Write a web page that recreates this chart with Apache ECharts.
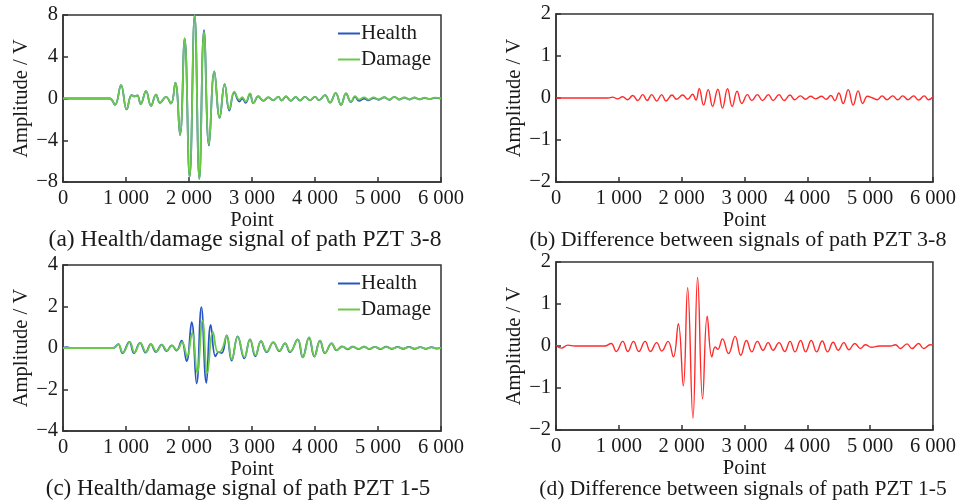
<!DOCTYPE html>
<html>
<head>
<meta charset="utf-8">
<script src="https://cdn.jsdelivr.net/npm/echarts@6/dist/echarts.min.js"></script>
<style>
html,body{margin:0;padding:0;background:#fff;}
#chart{width:959px;height:503px;}
</style>
</head>
<body>
<div id="chart"></div>
<script>
// ---- Data ----
const xTicks = [0, 1000, 2000, 3000, 4000, 5000, 6000];
const captions = [
  '(a) Health/damage signal of path PZT 3-8',
  '(b) Difference between signals of path PZT 3-8',
  '(c) Health/damage signal of path PZT 1-5',
  '(d) Difference between signals of path PZT 1-5'
];
const legendNames = ['Health', 'Damage'];

// (a) path PZT 3-8
const healthA = [[0,0],[740,0],[825,-0.6],[921,1.28],[1011,-1.05],[1090,0.32],[1140,0.2],[1180,0.3],[1233,-0.54],[1317,0.7],[1397,-0.7],[1476,0.38],[1540,-0.42],[1635,0.16],[1714,-0.48],[1783,1.53],[1857,-3.5],[1931,5.75],[2010,-7.5],[2090,8.0],[2164,-7.7],[2238,6.55],[2317,-4.5],[2402,2.6],[2487,-1.85],[2566,1.37],[2640,-1.15],[2719,0.58],[2800,-0.3],[2845,0.0],[2900,-0.42],[2968,0.45],[3021,-0.45],[3100,0.2],[3180,-0.22],[3259,0.1],[3338,-0.17],[3418,0.16],[3470,-0.2],[3540,0.2],[3614,-0.22],[3694,0.14],[3762,-0.2],[3841,0.16],[3920,-0.17],[4000,0.16],[4063,-0.15],[4159,0.32],[4238,-0.4],[4328,0.52],[4413,-0.62],[4492,0.48],[4571,-0.35],[4635,0.15],[4700,-0.22],[4780,0.0],[4850,-0.18],[4930,0.05],[5010,-0.12],[5100,0.1],[5180,-0.12],[5260,0.15],[5340,-0.1],[5420,0.08],[5500,-0.1],[5580,0.08],[5660,-0.08],[5740,0.06],[5820,-0.06],[5900,0.06],[6000,0]];
const damageA = [[0,0],[740,0],[825,-0.6],[921,1.28],[1011,-1.05],[1090,0.32],[1140,0.2],[1180,0.3],[1233,-0.54],[1317,0.7],[1397,-0.7],[1476,0.38],[1540,-0.42],[1635,0.16],[1714,-0.48],[1783,1.53],[1857,-3.5],[1931,5.75],[2010,-7.5],[2090,8.0],[2164,-7.7],[2238,6.4],[2317,-4.4],[2402,2.6],[2487,-1.8],[2566,1.37],[2640,-1.05],[2719,0.65],[2800,-0.12],[2845,0.12],[2900,-0.3],[2968,0.5],[3021,-0.45],[3100,0.22],[3180,-0.2],[3259,0.12],[3338,-0.15],[3418,0.16],[3470,-0.18],[3540,0.22],[3614,-0.2],[3694,0.16],[3762,-0.18],[3841,0.16],[3920,-0.15],[4000,0.16],[4063,-0.15],[4159,0.32],[4238,-0.38],[4328,0.54],[4413,-0.62],[4492,0.48],[4571,-0.32],[4635,0.22],[4700,-0.1],[4780,0.1],[4850,-0.1],[4930,0.1],[5010,-0.08],[5100,0.12],[5180,-0.1],[5260,0.15],[5340,-0.1],[5420,0.1],[5500,-0.08],[5580,0.1],[5660,-0.08],[5740,0.08],[5820,-0.06],[5900,0.08],[6000,0]];

// (b) difference PZT 3-8
const diffB = [[0,0],[825,0],[900,0.02],[980,-0.02],[1060,0.03],[1140,-0.04],[1222,0.06],[1302,-0.06],[1381,0.08],[1450,-0.06],[1524,0.08],[1603,-0.07],[1682,0.08],[1752,-0.07],[1846,0.07],[1920,-0.03],[2016,0.07],[2095,-0.03],[2174,0.09],[2227,-0.05],[2280,0.22],[2349,-0.17],[2423,0.2],[2492,-0.2],[2576,0.21],[2650,-0.24],[2730,0.22],[2804,-0.2],[2883,0.16],[2957,-0.13],[3048,0.08],[3116,-0.06],[3206,0.08],[3286,-0.06],[3381,0.08],[3455,-0.06],[3550,0.08],[3630,-0.06],[3725,0.07],[3799,-0.04],[3889,0.05],[3973,-0.03],[4053,0.04],[4132,-0.02],[4227,0.04],[4301,-0.03],[4375,0.06],[4439,-0.06],[4502,0.12],[4571,-0.13],[4651,0.2],[4730,-0.17],[4809,0.17],[4883,-0.13],[4957,0.04],[5040,0.0],[5116,-0.04],[5190,0.05],[5270,-0.04],[5360,0.05],[5439,-0.04],[5519,0.05],[5603,-0.04],[5693,0.05],[5772,-0.05],[5862,0.05],[5931,-0.04],[6000,0.03]];

// (c) path PZT 1-5
const healthC = [[0,0.02],[60,0.04],[130,0],[800,0],[878,0.19],[944,-0.25],[1053,0.3],[1127,-0.25],[1222,0.25],[1312,-0.22],[1392,0.19],[1476,-0.19],[1566,0.16],[1645,-0.15],[1725,0.13],[1803,-0.12],[1883,0.35],[1962,-0.63],[2042,1.24],[2121,-1.71],[2196,1.97],[2275,-1.68],[2345,1.11],[2420,-0.4],[2470,-0.2],[2520,-0.25],[2598,0.61],[2677,-0.61],[2773,0.56],[2878,-0.5],[2968,0.42],[3053,-0.4],[3143,0.33],[3233,-0.2],[3338,0.27],[3434,-0.15],[3524,0.22],[3603,-0.2],[3725,0.42],[3804,-0.45],[3905,0.5],[3989,-0.41],[4079,0.36],[4158,-0.25],[4264,0.22],[4343,-0.11],[4430,0.08],[4520,-0.06],[4600,0.06],[4690,-0.05],[4780,0.06],[4860,-0.05],[4950,0.05],[5040,-0.05],[5130,0.06],[5220,-0.04],[5310,0.05],[5400,-0.04],[5490,0.05],[5580,-0.04],[5670,0.04],[5760,-0.04],[5850,0.04],[5930,-0.03],[6000,0.02]];
const damageC = [[0,0],[800,0],[878,0.17],[950,-0.22],[1060,0.28],[1135,-0.22],[1228,0.25],[1318,-0.2],[1398,0.18],[1482,-0.17],[1572,0.16],[1650,-0.13],[1730,0.12],[1810,-0.1],[1890,0.28],[1970,-0.4],[2050,0.73],[2130,-1.2],[2215,1.33],[2290,-1.2],[2380,0.77],[2460,-0.2],[2520,-0.1],[2600,0.6],[2680,-0.55],[2775,0.55],[2880,-0.45],[2970,0.42],[3055,-0.35],[3145,0.33],[3235,-0.17],[3340,0.27],[3435,-0.13],[3525,0.22],[3605,-0.17],[3728,0.42],[3808,-0.45],[3908,0.52],[3992,-0.4],[4082,0.36],[4160,-0.24],[4266,0.22],[4345,-0.1],[4432,0.06],[4522,-0.04],[4602,0.05],[4692,-0.04],[4782,0.06],[4862,-0.04],[4952,0.05],[5042,-0.04],[5132,0.05],[5222,-0.03],[5312,0.04],[5402,-0.03],[5492,0.04],[5582,-0.03],[5672,0.04],[5762,-0.03],[5852,0.03],[5932,-0.02],[6000,0.01]];

// (d) difference PZT 1-5
const diffD = [[0,0.02],[85,-0.05],[190,0.02],[300,0],[772,0],[878,0.06],[958,-0.13],[1063,0.11],[1143,-0.13],[1233,0.11],[1318,-0.13],[1418,0.11],[1503,-0.13],[1603,0.08],[1683,-0.12],[1783,0.11],[1868,-0.26],[1947,0.53],[2026,-0.95],[2095,1.39],[2180,-1.72],[2254,1.63],[2333,-1.26],[2407,0.71],[2481,-0.26],[2534,-0.02],[2576,-0.08],[2650,0.17],[2746,-0.18],[2852,0.23],[2942,-0.22],[3032,0.13],[3116,-0.14],[3206,0.11],[3296,-0.1],[3376,0.08],[3455,-0.1],[3550,0.08],[3640,-0.13],[3725,0.11],[3804,-0.14],[3894,0.13],[3973,-0.14],[4063,0.13],[4148,-0.14],[4238,0.12],[4323,-0.14],[4412,0.09],[4492,-0.1],[4582,0.08],[4661,-0.09],[4757,0.06],[4846,-0.06],[4926,0.03],[5021,-0.03],[5150,0.0],[5323,0.0],[5402,0.03],[5482,-0.06],[5587,0.05],[5667,-0.06],[5772,0.06],[5852,-0.06],[5958,0.03],[6000,0.02]];

const yRanges = [[-8, 8, 4], [-2, 2, 1], [-4, 4, 2], [-2, 2, 1]];

// ---- Styling / layout ----
const FONT = "'Liberation Serif','Times New Roman',serif";
const BLUE = '#2756c4', GREEN = '#6bc94a', RED = '#ff2b2b';
const grids = [
  {left: 63, top: 15, width: 378, height: 167},
  {left: 556, top: 14, width: 378, height: 168},
  {left: 63, top: 265, width: 378, height: 166},
  {left: 556, top: 262, width: 378, height: 168}
];
const captionPos = [[245, 240], [738, 240], [238, 489], [743, 489]];
const captionSize = [23.5, 22, 23, 21.5];

function xLabel(v) { return v === 0 ? '0' : (v / 1000) + ' 000'; }
function yLabel(v) { return String(v).replace('-', '\u2212'); }

const xAxes = grids.map((g, i) => ({
  gridIndex: i, type: 'value', min: xTicks[0], max: xTicks[xTicks.length - 1], interval: 1000,
  name: 'Point', nameLocation: 'middle', nameGap: 26,
  nameTextStyle: {fontFamily: FONT, fontSize: 20.5, color: '#1a1a1a'},
  axisLine: {onZero: false, lineStyle: {color: '#333', width: 1.5}},
  axisTick: {inside: true, length: 5, lineStyle: {color: '#333', width: 1.5}},
  axisLabel: {formatter: xLabel, fontFamily: FONT, fontSize: 20.5, color: '#1a1a1a', margin: 6},
  splitLine: {show: false}
}));
const yAxes = grids.map((g, i) => ({
  gridIndex: i, type: 'value', min: yRanges[i][0], max: yRanges[i][1], interval: yRanges[i][2],
  name: 'Amplitude / V', nameLocation: 'middle', nameGap: 30,
  nameTextStyle: {fontFamily: FONT, fontSize: 20.5, color: '#1a1a1a'},
  axisLine: {onZero: false, lineStyle: {color: '#333', width: 1.5}},
  axisTick: {inside: true, length: 5, lineStyle: {color: '#333', width: 1.5}},
  axisLabel: {formatter: yLabel, fontFamily: FONT, fontSize: 20.5, color: '#1a1a1a', margin: 5},
  splitLine: {show: false}
}));

function line(name, data, idx, color, width) {
  return {
    name: name, type: 'line', xAxisIndex: idx, yAxisIndex: idx, data: data,
    showSymbol: false, smooth: 0.45, animation: false,
    lineStyle: {color: color, width: width}, itemStyle: {color: color}
  };
}

const legendBase = {
  data: legendNames, orient: 'vertical', icon: 'rect', itemWidth: 22, itemHeight: 2, itemGap: 5,
  textStyle: {fontFamily: FONT, fontSize: 21, color: '#1a1a1a', padding: [0, 0, 0, -4]}
};

const option = {
  backgroundColor: '#fff',
  animation: false,
  grid: grids.map(g => Object.assign({show: true, borderColor: '#333', borderWidth: 1.5, containLabel: false}, g)),
  xAxis: xAxes,
  yAxis: yAxes,
  legend: [
    Object.assign({left: 333, top: 18}, legendBase),
    Object.assign({left: 333, top: 268}, legendBase)
  ],
  series: [
    line('Health', healthA, 0, BLUE, 1.8),
    line('Damage', damageA, 0, GREEN, 1.8),
    line('Difference b', diffB, 1, RED, 1.4),
    line('Health', healthC, 2, BLUE, 1.8),
    line('Damage', damageC, 2, GREEN, 1.8),
    line('Difference d', diffD, 3, RED, 1.4)
  ],
  graphic: captions.map((t, i) => ({
    type: 'text', x: captionPos[i][0], y: captionPos[i][1],
    style: {text: t, fontFamily: FONT, fontSize: captionSize[i], fill: '#1a1a1a', textAlign: 'center', textVerticalAlign: 'middle'}
  }))
};

const chart = echarts.init(document.getElementById('chart'), null, {renderer: 'canvas'});
chart.setOption(option);
</script>
</body>
</html>
